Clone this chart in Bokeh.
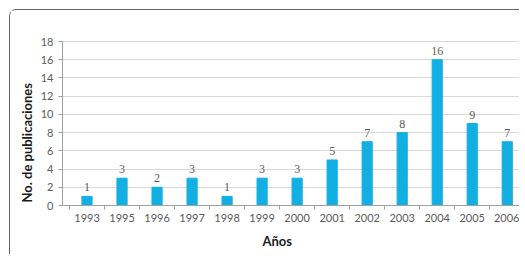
from bokeh.plotting import figure
from bokeh.models import ColumnDataSource, Range1d, FixedTicker, LabelSet, Title
from bokeh.embed import file_html
from bokeh.resources import INLINE

years = ["1993", "1995", "1996", "1997", "1998", "1999", "2000",
         "2001", "2002", "2003", "2004", "2005", "2006"]
counts = [1, 3, 2, 3, 1, 3, 3, 5, 7, 8, 16, 9, 7]
y_ticks = [0, 2, 4, 6, 8, 10, 12, 14, 16, 18]
x_title = "Años"
y_title = "No. de publicaciones"

idx = list(range(len(years)))
src = ColumnDataSource(dict(x=idx, top=counts, lab=[str(c) for c in counts]))

FONT = "Lato"
GRAY = "#5a5a5a"

p = figure(width=510, height=245, output_backend="svg", toolbar_location=None,
           x_range=Range1d(-0.7, len(years) - 1 + 0.35), y_range=Range1d(0, 18),
           min_border_left=52, min_border_right=1, min_border_top=31, min_border_bottom=47)
p.styles = {"margin-left": "9px", "margin-top": "9px",
            "border-top": "1px solid #666666", "border-left": "1px solid #666666",
            "border-top-left-radius": "7px"}

p.vbar(x="x", top="top", width=0.29, source=src, color="#12afe3")
p.add_layout(LabelSet(x="x", y="top", text="lab", source=src, text_align="center",
                      text_baseline="bottom", y_offset=5, text_font_size="12px",
                      text_font=FONT, text_color=GRAY))

p.xaxis.ticker = FixedTicker(ticks=idx, minor_ticks=[i - 0.5 for i in idx] + [len(idx) - 0.5])
p.xaxis.major_label_overrides = {i: y for i, y in enumerate(years)}
p.xaxis.major_tick_line_color = None
p.xaxis.major_tick_out = 0
p.xaxis.major_tick_in = 0
p.xaxis.minor_tick_out = 4
p.xaxis.minor_tick_in = 0
p.xaxis.minor_tick_line_color = "#a0a0a0"
p.xaxis.major_label_standoff = 4

p.yaxis.ticker = FixedTicker(ticks=y_ticks)
p.yaxis.minor_tick_line_color = None
p.yaxis.major_tick_out = 4
p.yaxis.major_tick_in = 0
p.yaxis.major_tick_line_color = "#a0a0a0"
p.yaxis.major_label_standoff = 5

for ax in (p.xaxis, p.yaxis):
    ax.axis_line_color = "#a0a0a0"
    ax.major_label_text_font = FONT
    ax.major_label_text_font_size = "11px"
    ax.major_label_text_color = GRAY

tx = Title(text=x_title, align="left", offset=200, standoff=13,
           text_font=FONT, text_font_size="13px", text_font_style="bold", text_color="#1a1a1a")
ty = Title(text=y_title, align="left", offset=3, standoff=5,
           text_font=FONT, text_font_size="13px", text_font_style="bold", text_color="#1a1a1a")
p.add_layout(tx, "below")
p.add_layout(ty, "left")

p.xgrid.grid_line_color = None
p.ygrid.grid_line_color = "#d9d9d9"
p.outline_line_color = "#d9d9d9"

open("out.html", "w").write(file_html(p, INLINE))
